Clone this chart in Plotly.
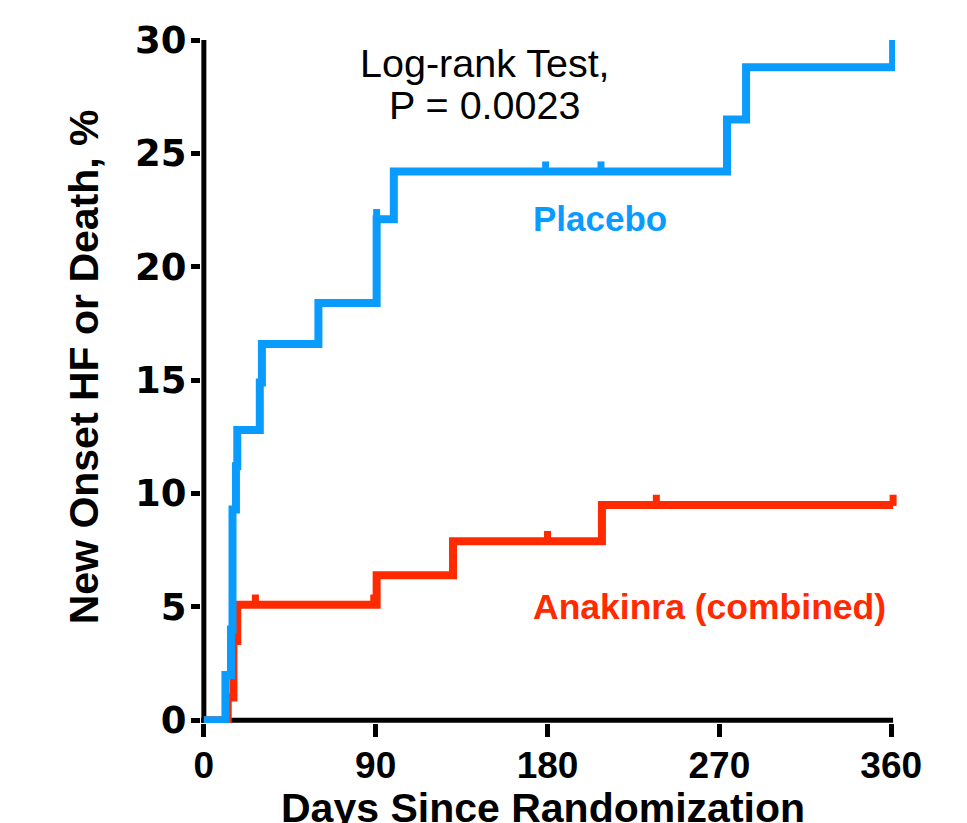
import numpy as np
import plotly.graph_objects as go

# ---- data ----
placebo_days = [0, 11.3, 14.2, 15.0, 16.8, 17.5, 29.3, 30.4, 60.0, 90.5, 99.5, 274.0, 284.0, 361.0]
placebo_pct = [0, 2.0, 4.0, 9.3, 11.2, 12.8, 14.9, 16.6, 18.4, 22.1, 24.2, 26.5, 28.8, 30.0]
placebo_censor_days = [90.5, 179, 208]

anakinra_days = [0, 12.5, 15.5, 17.5, 90.5, 130.5, 208.5, 361.0]
anakinra_pct = [0, 1.0, 3.5, 5.1, 6.4, 7.9, 9.5, 9.5]
anakinra_censor_days = [27, 89, 180, 237, 361]

x_ticks = [0, 90, 180, 270, 360]
y_ticks = [0, 5, 10, 15, 20, 25, 30]

X_RANGE = [-1.5, 362]
Y_RANGE = [-0.12, 30.4]

BLUE = "#0A9BFF"
RED = "#FF2A00"
FONT = "Liberation Sans"


def level_at(days, pct, t):
    i = np.searchsorted(np.asarray(days), t, side="right") - 1
    return float(np.asarray(pct)[max(i, 0)])


fig = go.Figure()

# axis lines drawn at the data origin
fig.add_shape(type="line", xref="x", yref="y", x0=0, x1=0, y0=Y_RANGE[0], y1=y_ticks[-1],
              line=dict(color="black", width=5), layer="below")
fig.add_shape(type="line", xref="x", yref="y", x0=X_RANGE[0], x1=361, y0=0, y1=0,
              line=dict(color="black", width=5), layer="below")

fig.add_trace(go.Scatter(x=anakinra_days, y=anakinra_pct, mode="lines",
                         line=dict(color=RED, width=8, shape="hv"),
                         hoverinfo="skip", showlegend=False))
fig.add_trace(go.Scatter(x=placebo_days, y=placebo_pct, mode="lines",
                         line=dict(color=BLUE, width=8, shape="hv"),
                         hoverinfo="skip", showlegend=False))

# censor ticks
for days, pct, cdays, col in [(anakinra_days, anakinra_pct, anakinra_censor_days, RED),
                              (placebo_days, placebo_pct, placebo_censor_days, BLUE)]:
    ys = [level_at(days, pct, t) + 0.2 for t in cdays]
    fig.add_trace(go.Scatter(x=cdays, y=ys, mode="markers",
                             marker=dict(symbol="line-ns", size=8,
                                         line=dict(color=col, width=7)),
                             cliponaxis=False, hoverinfo="skip", showlegend=False))

fig.add_annotation(x=147, y=29.0, xref="x", yref="y",
                   text="Log-rank Test,", showarrow=False,
                   font=dict(family=FONT, size=39.5, color="black"))
fig.add_annotation(x=147, y=27.12, xref="x", yref="y",
                   text="P = 0.0023", showarrow=False,
                   font=dict(family=FONT, size=39.5, color="black"))
fig.add_annotation(x=207.5, y=22.15, xref="x", yref="y", text="Placebo",
                   showarrow=False,
                   font=dict(family=FONT, size=35, color=BLUE, weight="bold"))
fig.add_annotation(x=265, y=5.0, xref="x", yref="y", text="Anakinra (combined)",
                   showarrow=False,
                   font=dict(family=FONT, size=35.5, color=RED, weight="bold"))

# axis titles
fig.add_annotation(x=0.5, y=0, xref="paper", yref="paper", yanchor="top",
                   yshift=-60, xshift=-5,
                   text="Days Since Randomization", showarrow=False,
                   font=dict(family=FONT, size=41, color="black", weight="bold"))
fig.add_annotation(x=0, y=0.514, xref="paper", yref="paper", xanchor="center",
                   xshift=-117, textangle=-90,
                   text="New Onset HF or Death, %", showarrow=False,
                   font=dict(family=FONT, size=41, color="black", weight="bold"))

fig.update_layout(
    width=967, height=823, autosize=False,
    margin=dict(l=193, r=80, t=23, b=108, pad=0),
    plot_bgcolor="white", paper_bgcolor="white",
    xaxis=dict(range=X_RANGE, tickvals=x_ticks, ticktext=[str(v) for v in x_ticks],
               showline=False,
               ticks="outside", ticklen=13, tickwidth=5, tickcolor="black",
               ticklabelstandoff=-3,
               showgrid=False, zeroline=False,
               tickfont=dict(family=FONT, size=37, color="black", weight="bold")),
    yaxis=dict(range=Y_RANGE, tickvals=y_ticks, ticktext=[str(v) for v in y_ticks],
               showline=False,
               ticks="outside", ticklen=9, tickwidth=5, tickcolor="black",
               ticklabelstandoff=-3,
               showgrid=False, zeroline=False,
               tickfont=dict(family="DejaVu Sans", size=37, color="black", weight="bold")),
)

fig.write_html("out.html")
